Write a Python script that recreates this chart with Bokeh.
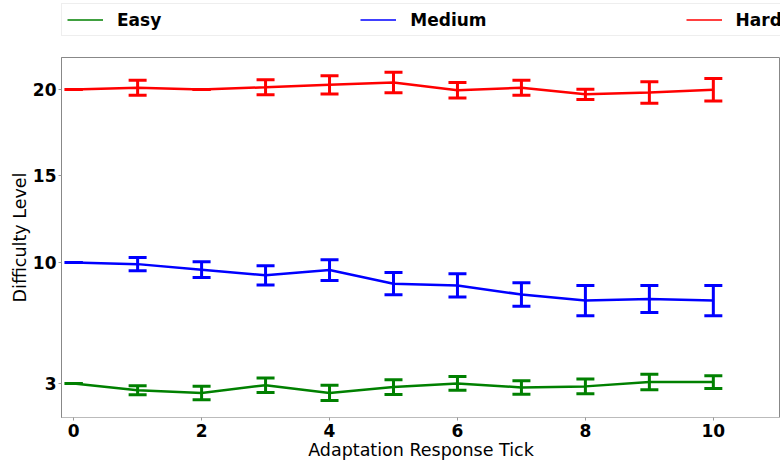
from bokeh.plotting import figure
from bokeh.layouts import column
from bokeh.models import (ColumnDataSource, Whisker, TeeHead, Legend, LegendItem,
                          Range1d, FixedTicker)
from bokeh.embed import file_html
from bokeh.resources import INLINE

ticks = [0, 1, 2, 3, 4, 5, 6, 7, 8, 9, 10]
easy_mean = [3.0, 2.6, 2.45, 2.9, 2.45, 2.79, 3.0, 2.77, 2.83, 3.08, 3.08]
easy_err = [0.0, 0.26, 0.39, 0.42, 0.44, 0.43, 0.40, 0.39, 0.43, 0.45, 0.37]
medium_mean = [10.0, 9.9, 9.58, 9.25, 9.56, 8.77, 8.67, 8.14, 7.79, 7.88, 7.79]
medium_err = [0.0, 0.39, 0.46, 0.56, 0.60, 0.64, 0.67, 0.68, 0.87, 0.78, 0.87]
hard_mean = [20.0, 20.1, 20.0, 20.13, 20.27, 20.4, 19.96, 20.1, 19.72, 19.83, 19.98]
hard_err = [0.0, 0.44, 0.0, 0.44, 0.53, 0.59, 0.45, 0.44, 0.30, 0.62, 0.65]
series_names = ["Easy", "Medium", "Hard"]
series_colors = ["#008000", "#0000ff", "#ff0000"]
x_ticks = [0, 2, 4, 6, 8, 10]
y_ticks = [3, 10, 15, 20]

FONT = "DejaVu Sans"

# ---- legend strip (separate figure on top) ----
leg = figure(width=780, height=56, output_backend="svg", toolbar_location=None,
             x_range=Range1d(0, 1), y_range=Range1d(0, 1),
             x_axis_type=None, y_axis_type=None,
             min_border_left=0, min_border_right=0, min_border_top=0, min_border_bottom=0)
leg.outline_line_color = None
leg.xgrid.visible = False
leg.ygrid.visible = False

# ---- main chart ----
p = figure(width=780, height=406, output_backend="svg", toolbar_location=None,
           x_range=Range1d(-0.19, 11.05), y_range=Range1d(1.03, 21.85),
           min_border_left=61, min_border_right=0, min_border_top=1, min_border_bottom=45,
           x_axis_label="Adaptation Response Tick", y_axis_label="Difficulty Level")
p.outline_line_color = "#888888"
p.xgrid.visible = False
p.ygrid.visible = False

for ax in (p.xaxis[0], p.yaxis[0]):
    ax.major_label_text_font = FONT
    ax.major_label_text_font_style = "bold"
    ax.major_label_text_font_size = "17px"
    ax.major_label_text_color = "black"
    ax.axis_label_text_font = FONT
    ax.axis_label_text_font_style = "normal"
    ax.axis_label_text_font_size = "17.5px"
    ax.axis_label_text_color = "black"
    ax.major_tick_in = 0
    ax.major_tick_out = 3
    ax.minor_tick_line_color = None
    ax.major_tick_line_color = "#999999"
p.xaxis[0].ticker = FixedTicker(ticks=x_ticks)
p.yaxis[0].ticker = FixedTicker(ticks=y_ticks)
p.xaxis[0].axis_line_color = "#bbbbbb"
p.yaxis[0].axis_line_color = "#888888"
p.xaxis[0].axis_label_standoff = 0
p.xaxis[0].major_label_standoff = 3
p.yaxis[0].axis_label_standoff = 0
p.yaxis[0].major_label_standoff = 2

legend_items = []
for name, color, mean, err in zip(series_names, series_colors,
                                  [easy_mean, medium_mean, hard_mean],
                                  [easy_err, medium_err, hard_err]):
    src = ColumnDataSource(dict(x=ticks, y=mean,
                                upper=[m + e for m, e in zip(mean, err)],
                                lower=[m - e for m, e in zip(mean, err)]))
    p.line("x", "y", source=src, line_color=color, line_width=2.5)
    w = Whisker(source=src, base="x", upper="upper", lower="lower", dimension="height",
                line_color=color, line_width=3,
                upper_head=TeeHead(size=18, line_color=color, line_width=3),
                lower_head=TeeHead(size=18, line_color=color, line_width=3))
    p.add_layout(w)
    # swatch renderer in the legend strip (its data lie outside that strip's ranges)
    swatch = leg.line("x", "y", source=src, line_color=color, line_width=1.3)
    legend_items.append(LegendItem(label=name, renderers=[swatch]))

legend = Legend(items=legend_items, orientation="horizontal", location=(0, 20),
                label_text_font=FONT, label_text_font_style="bold",
                label_text_font_size="17px", label_text_color="black",
                glyph_width=36, glyph_height=21, label_standoff=14, label_width=0,
                label_height=21, spacing=199, padding=5, margin=0,
                border_line_color="#dddddd", border_line_width=1,
                background_fill_alpha=1.0)
leg.add_layout(legend)

layout = column(leg, p, spacing=0)
open("out.html", "w").write(file_html(layout, INLINE))
